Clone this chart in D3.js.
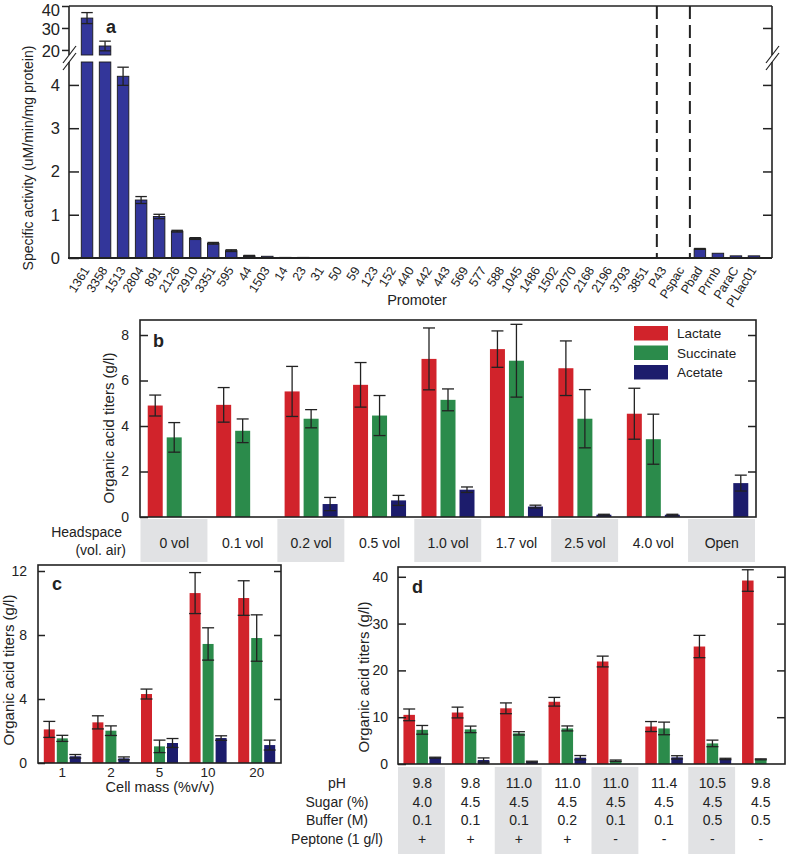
<!DOCTYPE html>
<html><head><meta charset="utf-8">
<script src="https://cdn.jsdelivr.net/npm/d3@7"></script>
<style>
body{margin:0;background:#fff}
text{font-family:"Liberation Sans",Arial,Helvetica,sans-serif;fill:#222}
</style>
</head><body>
<svg id="chart" width="787" height="854"></svg>
<script>
// ---------- DATA ----------
const promoters = ["1361","3358","1513","2804","891","2126","2910","3351","595","44","1503","14","23","31","50","59","123","152","440","442","443","569","577","588","1045","1486","1502","2070","2168","2196","3793","3851","P43","Pspac","Pbad","Prrnb","ParaC","PLlac01"];
const activity    = [34.5,21.8,4.2,1.34,0.96,0.62,0.45,0.34,0.17,0.05,0.04,0.015,0.015,0.012,0.012,0.012,0.012,0,0,0,0,0,0,0,0,0,0,0,0,0,0,0,0,0,0.21,0.11,0.05,0.05];
const activityErr = [2.5,2.2,0.21,0.08,0.05,0.02,0.02,0.02,0.02,0.01,0,0,0,0,0,0,0,0,0,0,0,0,0,0,0,0,0,0,0,0,0,0,0,0,0.01,0,0,0];
const ticksALow = [0,1,2,3,4];
const ticksAHigh = [20,30,40];

const headspace = ["0 vol","0.1 vol","0.2 vol","0.5 vol","1.0 vol","1.7 vol","2.5 vol","4.0 vol","Open"];
const lactateB     = [4.9,4.93,5.52,5.81,6.95,7.38,6.54,4.54,0];
const lactateBErr  = [0.46,0.76,1.1,0.98,1.36,0.8,1.2,1.12,0];
const succinateB   = [3.5,3.79,4.32,4.46,5.15,6.87,4.32,3.42,0];
const succinateBErr= [0.65,0.52,0.4,0.88,0.48,1.6,1.28,1.1,0];
const acetateB     = [0,0,0.57,0.73,1.2,0.46,0.1,0.1,1.49];
const acetateBErr  = [0,0,0.29,0.22,0.12,0.06,0.02,0.02,0.35];
const ticksB = [0,2,4,6,8];

const cellMass = ["1","2","5","10","20"];
const lactateC     = [2.1,2.54,4.31,10.62,10.31];
const lactateCErr  = [0.5,0.41,0.31,1.28,1.08];
const succinateC   = [1.54,2.02,1.04,7.44,7.81];
const succinateCErr= [0.19,0.3,0.39,1.01,1.45];
const acetateC     = [0.42,0.29,1.25,1.56,1.12];
const acetateCErr  = [0.11,0.09,0.28,0.14,0.31];
const ticksC = [0,4,8,12];

const pH      = ["9.8","9.8","11.0","11.0","11.0","11.4","10.5","9.8"];
const sugar   = ["4.0","4.5","4.5","4.5","4.5","4.5","4.5","4.5"];
const buffer  = ["0.1","0.1","0.1","0.2","0.1","0.1","0.5","0.5"];
const peptone = ["+","+","+","+","-","-","-","-"];
const lactateD     = [10.5,11.0,11.9,13.3,21.9,8.0,25.1,39.2];
const lactateDErr  = [1.25,1.15,1.15,0.93,1.15,1.07,2.38,2.3];
const succinateD   = [7.3,7.4,6.55,7.6,0.7,7.6,4.4,1.0];
const succinateDErr= [0.93,0.7,0.35,0.53,0.15,1.35,0.7,0.1];
const acetateD     = [1.35,0.85,0.5,1.35,0,1.42,1.07,0];
const acetateDErr  = [0.1,0.45,0.1,0.46,0,0.35,0.15,0];
const ticksD = [0,10,20,30,40];

const seriesNames = ["Lactate","Succinate","Acetate"];

// ---------- STYLE ----------
const COL = {red:"#d1232b", green:"#2b8b4b", navy:"#1c1c6c", blue:"#33369a", ink:"#222"};
const seriesColors = [COL.red, COL.green, COL.navy];
const svg = d3.select("#chart");
const fmt = d3.format("d");

function line(g,x1,y1,x2,y2,w,dash){
  const l = g.append("line").attr("x1",x1).attr("y1",y1).attr("x2",x2).attr("y2",y2)
    .attr("stroke",COL.ink).attr("stroke-width",w||1.5);
  if(dash) l.attr("stroke-dasharray",dash);
  return l;
}
function errBar(g,x,yHi,yLo,cap){
  line(g,x,yHi,x,yLo,1.3);
  line(g,x-cap/2,yHi,x+cap/2,yHi,1.3);
  line(g,x-cap/2,yLo,x+cap/2,yLo,1.3);
}
function stripDomain(sel){ sel.select(".domain").remove(); sel.selectAll(".tick line").attr("stroke",COL.ink).attr("stroke-width",1.5); }

// ---------- PANEL A ----------
(function(){
  const L=69,R=772,T=6,B=258,gapTop=55,gapBot=62;
  const g = svg.append("g");
  const x = d3.scalePoint().domain(promoters).range([L,R]).padding(1);
  const yLow = d3.scaleLinear().domain([0,4.53]).range([B,gapBot]);
  const yHigh = d3.scaleLinear().domain([17.7,40]).range([gapTop,T]);
  const brk = yLow.domain()[1];
  const yA = v => v<=brk ? yLow(v) : yHigh(v);
  const bw = 11.5;
  promoters.forEach((p,i)=>{
    const v = activity[i]; if(v<=0) return;
    const x0 = x(p)-bw/2;
    const segs = v<=brk ? [[yLow(v),B]] : [[gapBot,B],[yHigh(v),gapTop]];
    segs.forEach(s=>g.append("rect").attr("x",x0).attr("y",s[0]).attr("width",bw).attr("height",Math.max(0.6,s[1]-s[0]))
      .attr("fill",COL.blue).attr("stroke","#1a1a1a").attr("stroke-width",0.9));
    const e = activityErr[i];
    if(e>0) errBar(g,x(p),yA(v+e),yA(v-e),bw);
  });
  // dashed separators
  const d1 = (x("3851")+x("P43"))/2+2, d2 = (x("Pspac")+x("Pbad"))/2-1;
  [d1,d2].forEach(d=>line(g,d,T,d,B,2,"13,6"));
  // axes
  const axL = g.append("g").attr("transform",`translate(${L},0)`)
    .call(d3.axisLeft(yLow).tickValues(ticksALow).tickFormat(fmt).tickSizeInner(-10).tickSizeOuter(0).tickPadding(9));
  const axLH = g.append("g").attr("transform",`translate(${L},0)`)
    .call(d3.axisLeft(yHigh).tickValues(ticksAHigh).tickFormat(fmt).tickSizeInner(7).tickSizeOuter(0).tickPadding(2));
  const axR = g.append("g").attr("transform",`translate(${R},0)`)
    .call(d3.axisRight(yLow).tickValues(ticksALow.slice(1)).tickSizeInner(-9).tickSizeOuter(0).tickFormat(""));
  const axRH = g.append("g").attr("transform",`translate(${R},0)`)
    .call(d3.axisRight(yHigh).tickValues([30]).tickSizeInner(-9).tickSizeOuter(0).tickFormat(""));
  [axL,axLH,axR,axRH].forEach(a=>{stripDomain(a); a.selectAll("text").attr("font-size",16.5).style("font-family","Liberation Sans, Arial, sans-serif").attr("fill",COL.ink);});
  axLH.selectAll("text").attr("dy",d=>d===40?"0.55em":"0.38em");
  // frame
  line(g,L,T,R,T,1.6); line(g,L-1,B,R,B,2);
  [L,R].forEach(xx=>{ line(g,xx,T,xx,gapTop,1.6); line(g,xx,gapBot,xx,B,1.6);
    line(g,xx-6,gapTop+8,xx+7,gapTop-9,1.2); line(g,xx-6,gapBot+8,xx+7,gapBot-9,1.2);});
  // category labels
  g.selectAll("text.cat").data(promoters).enter().append("text").attr("class","cat")
    .attr("transform",p=>`translate(${x(p)+3},${270}) rotate(-58)`).attr("text-anchor","end")
    .attr("font-size",12.5).text(p=>p);
  g.append("text").attr("x",417).attr("y",305).attr("text-anchor","middle").attr("font-size",14.5).text("Promoter");
  g.append("text").attr("transform","translate(33,158) rotate(-90)").attr("text-anchor","middle").attr("font-size",14).text("Specific activity (uM/min/mg protein)");
  g.append("text").attr("x",106).attr("y",33).attr("font-size",18).attr("font-weight","bold").text("a");
})();

// ---------- grouped bar helper ----------
function groupedPanel(o){
  const g = svg.append("g");
  const x = d3.scaleBand().domain(o.cats).range([o.L,o.R]);
  const y = d3.scaleLinear().domain([0,o.ymax]).range([o.B,o.T]);
  o.series.forEach((vals,si)=>{
    vals.forEach((v,ci)=>{
      const cx = x(o.cats[ci]) + x.bandwidth()/2 + (si-1)*o.step;
      if(v>0) g.append("rect").attr("x",cx-o.bw/2).attr("y",y(v)).attr("width",o.bw).attr("height",o.B-y(v))
        .attr("fill",seriesColors[si]);
      const e = o.errs[si][ci];
      if(e>0) errBar(g,cx,y(v+e),y(v-e),o.cap);
    });
  });
  const aL = g.append("g").attr("transform",`translate(${o.L},0)`)
    .call(d3.axisLeft(y).tickValues(o.ticks).tickFormat(fmt).tickSizeInner(-o.tick).tickSizeOuter(0).tickPadding(o.pad));
  const aR = g.append("g").attr("transform",`translate(${o.R},0)`)
    .call(d3.axisRight(y).tickValues(o.ticks.filter(t=>t>0)).tickSizeInner(-o.tick).tickSizeOuter(0).tickFormat(""));
  [aL,aR].forEach(a=>{stripDomain(a); a.selectAll("text").attr("font-size",o.fs).style("font-family","Liberation Sans, Arial, sans-serif").attr("fill",COL.ink);});
  g.append("rect").attr("x",o.L).attr("y",o.T).attr("width",o.R-o.L).attr("height",o.B-o.T)
    .attr("fill","none").attr("stroke",COL.ink).attr("stroke-width",1.6);
  g.append("text").attr("transform",`translate(${o.labX},${o.labY}) rotate(-90)`).attr("text-anchor","middle")
    .attr("font-size",o.labFs).text("Organic acid titers (g/l)");
  g.append("text").attr("x",o.letX).attr("y",o.letY).attr("font-size",18).attr("font-weight","bold").text(o.letter);
  return {g,x,y};
}

// ---------- PANEL B ----------
(function(){
  const P = groupedPanel({cats:headspace,L:140,R:756,T:320,B:517,ymax:8.66,
    series:[lactateB,succinateB,acetateB],errs:[lactateBErr,succinateBErr,acetateBErr],
    step:19,bw:15,cap:12,ticks:ticksB,tick:8,pad:11,fs:14,labX:114,labY:428,labFs:15,letX:153,letY:347,letter:"b"});
  const {g,x} = P;
  headspace.forEach((h,i)=>{
    if(i%2===0) g.append("rect").attr("x",x(h)+0.5).attr("y",519).attr("width",x.bandwidth()-1.5).attr("height",43).attr("fill","#e1e2e4");
    g.append("text").attr("x",x(h)+x.bandwidth()/2).attr("y",548).attr("text-anchor","middle").attr("font-size",14).text(h);
  });
  g.append("text").attr("x",122).attr("y",537).attr("text-anchor","end").attr("font-size",14).text("Headspace");
  g.append("text").attr("x",126).attr("y",555).attr("text-anchor","end").attr("font-size",14).text("(vol. air)");
  // legend
  seriesNames.forEach((s,i)=>{
    g.append("rect").attr("x",634).attr("y",326+i*19.5).attr("width",34).attr("height",14.5).attr("fill",seriesColors[i]);
    g.append("text").attr("x",677).attr("y",338+i*19.5).attr("font-size",13.5).text(s);
  });
})();

// ---------- PANEL C ----------
(function(){
  const P = groupedPanel({cats:cellMass,L:38,R:281,T:565,B:763,ymax:12.375,
    series:[lactateC,succinateC,acetateC],errs:[lactateCErr,succinateCErr,acetateCErr],
    step:13,bw:11,cap:12,ticks:ticksC,tick:7,pad:11,fs:14,labX:14,labY:670,labFs:15,letX:52,letY:590,letter:"c"});
  const {g,x} = P;
  cellMass.forEach(c=>g.append("text").attr("x",x(c)+x.bandwidth()/2).attr("y",777).attr("text-anchor","middle").attr("font-size",13.5).text(c));
  g.append("text").attr("x",160).attr("y",792).attr("text-anchor","middle").attr("font-size",14.5).text("Cell mass (%v/v)");
})();

// ---------- PANEL D ----------
(function(){
  const P = groupedPanel({cats:pH.map((p,i)=>"g"+i),L:398,R:785,T:567,B:764,ymax:42.09,
    series:[lactateD,succinateD,acetateD],errs:[lactateDErr,succinateDErr,acetateDErr],
    step:13,bw:11.5,cap:12,ticks:ticksD,tick:8,pad:10,fs:14,labX:369,labY:677,labFs:15,letX:412,letY:593,letter:"d"});
  const {g,x} = P;
  const rows = [pH,sugar,buffer,peptone];
  const rowNames = ["pH","Sugar (%)","Buffer (M)","Peptone (1 g/l)"];
  const rowY = [788,807,825,844];
  x.domain().forEach((k,i)=>{
    if(i%2===0) g.append("rect").attr("x",x(k)).attr("y",767).attr("width",x.bandwidth()-1.5).attr("height",87).attr("fill","#e1e2e4");
    rows.forEach((r,ri)=>g.append("text").attr("x",x(k)+x.bandwidth()/2).attr("y",rowY[ri]).attr("text-anchor","middle").attr("font-size",14).text(r[i]));
  });
  rowNames.forEach((n,ri)=>g.append("text").attr("x",337).attr("y",rowY[ri]).attr("text-anchor","middle").attr("font-size",14).text(n));
})();
</script>
</body></html>
